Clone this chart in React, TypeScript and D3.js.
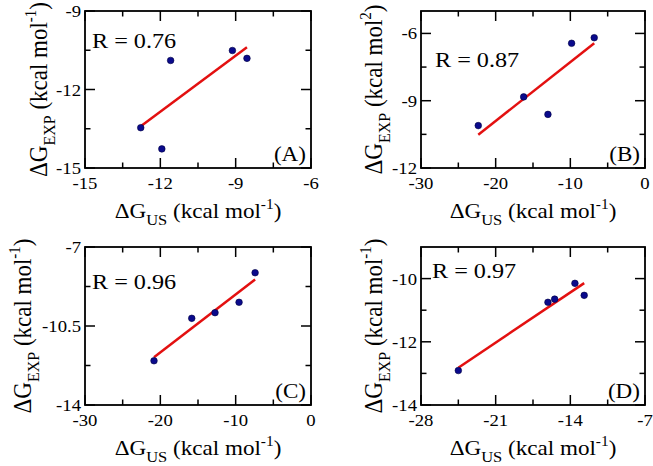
import React from "react";
import * as d3 from "d3";

// ---- data ----
const xA = [-12.78, -11.94, -11.59, -9.13, -8.55];
const yA = [-13.46, -14.27, -10.89, -10.51, -10.81];
const xB = [-22.33, -16.25, -13.0, -9.83, -6.8];
const yB = [-10.11, -8.83, -9.61, -6.44, -6.19];
const xC = [-20.84, -15.83, -12.74, -9.55, -7.42];
const yC = [-12.04, -10.16, -9.91, -9.45, -8.14];
const xD = [-24.5, -16.1, -15.47, -13.57, -12.7];
const yD = [-12.91, -10.75, -10.65, -10.15, -10.53];

const rLabels = ["R = 0.76", "R = 0.87", "R = 0.96", "R = 0.97"];
const panelLabels = ["(A)", "(B)", "(C)", "(D)"];
const xDomains = [[-15, -6], [-30, 0], [-30, 0], [-28, -7]];
const yDomains = [[-15, -9], [-12, -5], [-14, -7], [-14, -9]];
const xMajorSteps = [3, 10, 10, 7];
const yMajorSteps = [3, 3, 3.5, 2];
const yTitleSups = ["-1", "2", "-1", "-1"];

const xs = [xA, xB, xC, xD];
const ys = [yA, yB, yC, yD];

// ---- layout ----
const frames = [
  { x0: 85, x1: 311, y0: 11, y1: 168 },
  { x0: 421, x1: 645, y0: 11, y1: 168 },
  { x0: 85, x1: 311, y0: 247, y1: 405 },
  { x0: 421, x1: 645, y0: 247, y1: 405 },
];
const yTitleX = [47, 382, 31, 382];
const rPos = [
  [7, 37],
  [14, 56],
  [7, 42],
  [11, 31],
];
const FONT = "Liberation Serif, DejaVu Serif, serif";
const SX = 1.1;
const MAJOR = 10;
const MINOR = 5.5;

function ticks(lo: number, hi: number, step: number) {
  const out: number[] = [];
  const n = Math.round((hi - lo) / step);
  for (let i = 0; i <= n; i++) out.push(+(lo + i * step).toFixed(4));
  return out;
}

function regression(x: number[], y: number[]) {
  const mx = d3.mean(x)!;
  const my = d3.mean(y)!;
  let sxy = 0,
    sxx = 0;
  x.forEach((v, i) => {
    sxy += (v - mx) * (y[i] - my);
    sxx += (v - mx) * (v - mx);
  });
  const b = sxy / sxx;
  const a = my - b * mx;
  const [lo, hi] = d3.extent(x) as [number, number];
  return [
    [lo, a + b * lo],
    [hi, a + b * hi],
  ];
}

function Panel({ i }: { i: number }) {
  const f = frames[i];
  const xScale = d3.scaleLinear().domain(xDomains[i]).range([f.x0, f.x1]);
  const yScale = d3.scaleLinear().domain(yDomains[i]).range([f.y1, f.y0]);
  const [xlo, xhi] = xDomains[i];
  const [ylo, yhi] = yDomains[i];
  const xMaj = ticks(xlo, xhi, xMajorSteps[i]);
  const xMin = ticks(xlo + xMajorSteps[i] / 2, xhi, xMajorSteps[i]).filter((v) => v < xhi);
  const yMaj = ticks(ylo, yhi, yMajorSteps[i]).filter((v) => v <= yhi + 1e-6);
  const yMin = ticks(ylo + yMajorSteps[i] / 2, yhi, yMajorSteps[i]).filter((v) => v < yhi - 1e-6);
  const fit = regression(xs[i], ys[i]);
  const line = d3
    .line<number[]>()
    .x((d) => xScale(d[0]))
    .y((d) => yScale(d[1]));
  const cx = (f.x0 + f.x1) / 2;
  const cy = (f.y0 + f.y1) / 2;
  return (
    <g fontFamily={FONT}>
      {xMaj.map((v) => (
        <g key={"xM" + v} stroke="#000" strokeWidth={1.5}>
          <line x1={xScale(v)} x2={xScale(v)} y1={f.y1} y2={f.y1 - MAJOR} />
          <line x1={xScale(v)} x2={xScale(v)} y1={f.y0} y2={f.y0 + MAJOR} />
        </g>
      ))}
      {xMin.map((v) => (
        <g key={"xm" + v} stroke="#000" strokeWidth={1.5}>
          <line x1={xScale(v)} x2={xScale(v)} y1={f.y1} y2={f.y1 - MINOR} />
          <line x1={xScale(v)} x2={xScale(v)} y1={f.y0} y2={f.y0 + MINOR} />
        </g>
      ))}
      {yMaj.map((v) => (
        <g key={"yM" + v} stroke="#000" strokeWidth={1.5}>
          <line x1={f.x0} x2={f.x0 + MAJOR} y1={yScale(v)} y2={yScale(v)} />
          <line x1={f.x1} x2={f.x1 - MAJOR} y1={yScale(v)} y2={yScale(v)} />
        </g>
      ))}
      {yMin.map((v) => (
        <g key={"ym" + v} stroke="#000" strokeWidth={1.5}>
          <line x1={f.x0} x2={f.x0 + MINOR} y1={yScale(v)} y2={yScale(v)} />
          <line x1={f.x1} x2={f.x1 - MINOR} y1={yScale(v)} y2={yScale(v)} />
        </g>
      ))}
      <rect
        x={f.x0}
        y={f.y0}
        width={f.x1 - f.x0}
        height={f.y1 - f.y0}
        fill="none"
        stroke="#000"
        strokeWidth={1.8}
      />
      {xMaj.map((v) => (
        <text
          key={"xl" + v}
          transform={`translate(${xScale(v)},${f.y1 + 21}) scale(${SX},1)`}
          textAnchor="middle"
          fontSize={17}
        >
          {String(v)}
        </text>
      ))}
      {yMaj.map((v) => (
        <text
          key={"yl" + v}
          transform={`translate(${f.x0 - 4},${yScale(v) + 6}) scale(${SX},1)`}
          textAnchor="end"
          fontSize={17}
        >
          {String(v)}
        </text>
      ))}
      <path d={line(fit) || ""} stroke="#e31010" strokeWidth={2.5} fill="none" />
      {xs[i].map((v, k) => (
        <circle
          key={"p" + k}
          cx={xScale(v)}
          cy={yScale(ys[i][k])}
          r={3.3}
          fill="#0a0a8c"
          stroke="#000040"
          strokeWidth={0.6}
        />
      ))}
      <text
        transform={`translate(${f.x0 + rPos[i][0]},${f.y0 + rPos[i][1]}) scale(${SX},1)`}
        fontSize={22}
      >
        {rLabels[i]}
      </text>
      <text
        transform={`translate(${f.x1 - 5},${f.y1 - 7}) scale(${SX},1)`}
        textAnchor="end"
        fontSize={21}
      >
        {panelLabels[i]}
      </text>
      <text
        transform={`translate(${cx},${f.y1 + 50}) scale(${SX},1)`}
        textAnchor="middle"
        fontSize={21}
      >
        ΔG
        <tspan dy={7} fontSize={15}>
          US
        </tspan>
        <tspan dy={-7}> (kcal mol</tspan>
        <tspan dy={-9} fontSize={14}>
          -1
        </tspan>
        <tspan dy={9}>)</tspan>
      </text>
      <text
        transform={`translate(${yTitleX[i]},${cy}) rotate(-90) scale(1,${SX})`}
        textAnchor="middle"
        fontSize={23}
      >
        ΔG
        <tspan dy={7} fontSize={16}>
          EXP
        </tspan>
        <tspan dy={-7}> (kcal mol</tspan>
        <tspan dy={-10} fontSize={15}>
          {yTitleSups[i]}
        </tspan>
        <tspan dy={10}>)</tspan>
      </text>
    </g>
  );
}

export default function App() {
  return (
    <svg
      width={653}
      height={466}
      style={{ position: "absolute", left: 0, top: 0, background: "#fff" }}
    >
      <rect width={653} height={466} fill="#fff" />
      {[0, 1, 2, 3].map((i) => (
        <Panel key={i} i={i} />
      ))}
    </svg>
  );
}
